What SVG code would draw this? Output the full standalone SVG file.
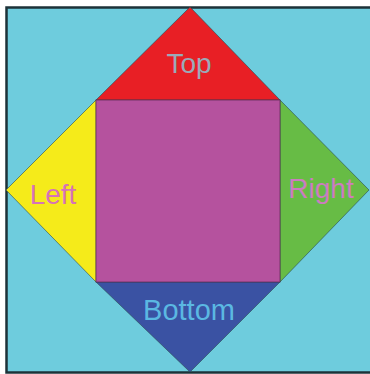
<svg xmlns="http://www.w3.org/2000/svg" width="370" height="374" viewBox="0 0 370 374">
<style>
.lbl{font-family:"Liberation Sans",Arial,sans-serif;font-size:28px;text-anchor:middle}
.tri{stroke:#2a4a50;stroke-width:1;stroke-opacity:0.6}
</style>
<rect x="0" y="0" width="370" height="374" fill="#ffffff"/>
<rect id="background" x="6.5" y="7.5" width="380" height="365" fill="#6ECCDD" stroke="#1d3238" stroke-width="2.5"/>
<g id="top">
<polygon class="tri" points="190,7 280,100 96,100" fill="#E81F25"/>
<text class="lbl" x="189" y="73" fill="#9AAAB8">Top</text>
</g>
<g id="left">
<polygon class="tri" points="6,190 96,100 96,282" fill="#F5EB1A"/>
<text class="lbl" x="53" y="204" fill="#D673B8">Left</text>
</g>
<g id="right">
<polygon class="tri" points="369,190 280,100 280,282" fill="#67BC45"/>
<text class="lbl" x="321" y="198" fill="#CC7CC0">Right</text>
</g>
<g id="bottom">
<polygon class="tri" points="190,372 280,282 96,282" fill="#3A52A3"/>
<text class="lbl" x="189" y="320" fill="#5BB8E2" style="font-size:29px">Bottom</text>
</g>
<g id="center">
<rect x="96" y="100" width="184" height="182" fill="#B5529E" stroke="#5a2a50" stroke-width="1" stroke-opacity="0.7"/>
</g>
<g id="connectors"></g>
</svg>
